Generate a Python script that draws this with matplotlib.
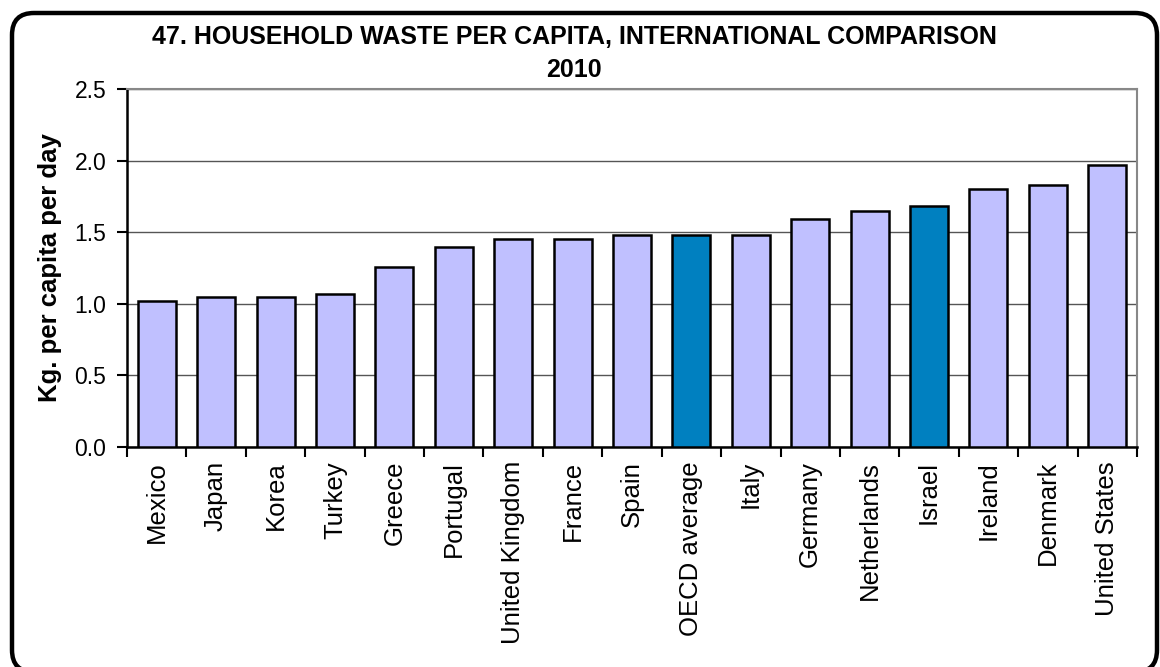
import matplotlib.pyplot as plt
from matplotlib.patches import FancyBboxPatch

plt.rcParams['font.family'] = ['Liberation Sans', 'DejaVu Sans']

countries = ["Mexico", "Japan", "Korea", "Turkey", "Greece", "Portugal",
             "United Kingdom", "France", "Spain", "OECD average", "Italy",
             "Germany", "Netherlands", "Israel", "Ireland", "Denmark",
             "United States"]
kg_per_day = [1.02, 1.05, 1.05, 1.07, 1.26, 1.40, 1.45, 1.45, 1.48, 1.48,
              1.48, 1.59, 1.65, 1.68, 1.80, 1.83, 1.97]
highlight = ["OECD average", "Israel"]

light = '#C0C0FF'
dark = '#0080C0'
colors = [dark if c in highlight else light for c in countries]

W, H = 1160, 667
fig = plt.figure(figsize=(W / 100, H / 100), dpi=100)
ax = fig.add_axes([127 / W, 1 - 447 / H, (1137 - 127) / W, (447 - 89) / H])

x = range(len(countries))
ax.bar(x, kg_per_day, width=0.64, color=colors, edgecolor='black', linewidth=1.8, zorder=3)

ax.set_xlim(-0.5, len(countries) - 0.5)
ax.set_ylim(0, 2.5)
ax.set_yticks([0, 0.5, 1.0, 1.5, 2.0, 2.5])
ax.set_yticklabels(['0.0', '0.5', '1.0', '1.5', '2.0', '2.5'], fontsize=16.5)
ax.yaxis.grid(True, color='#555555', linewidth=1, zorder=0)

ax.set_xticks(list(x))
ax.set_xticklabels(countries, rotation=90, fontsize=18.5)
ax.tick_params(axis='x', length=0, pad=10)
ax.set_xticks([i - 0.5 for i in range(len(countries) + 1)], minor=True)
ax.tick_params(axis='x', which='minor', length=7, width=1.5, direction='out')
ax.tick_params(axis='y', length=7, width=1.5, direction='out', pad=8)

for s in ['left', 'bottom']:
    ax.spines[s].set_color('black')
    ax.spines[s].set_linewidth(1.8)
for s in ['top', 'right']:
    ax.spines[s].set_color('#888888')
    ax.spines[s].set_linewidth(1.5)

ax.set_ylabel('Kg. per capita per day', fontsize=18.5, fontweight='bold', labelpad=9)

fig.text(0.495, 1 - 37 / H, '47. HOUSEHOLD WASTE PER CAPITA, INTERNATIONAL COMPARISON',
         ha='center', va='center', fontsize=18, fontweight='bold')
fig.text(0.495, 1 - 70 / H, '2010', ha='center', va='center', fontsize=18, fontweight='bold')

# rounded chart border, in inches
frame = FancyBboxPatch((0.12, -0.05), 11.45, 6.59,
                       boxstyle='round,pad=0,rounding_size=0.22',
                       transform=fig.dpi_scale_trans, fill=False,
                       edgecolor='black', linewidth=3.2)
fig.patches.append(frame)

plt.savefig('out.png', dpi=100)
